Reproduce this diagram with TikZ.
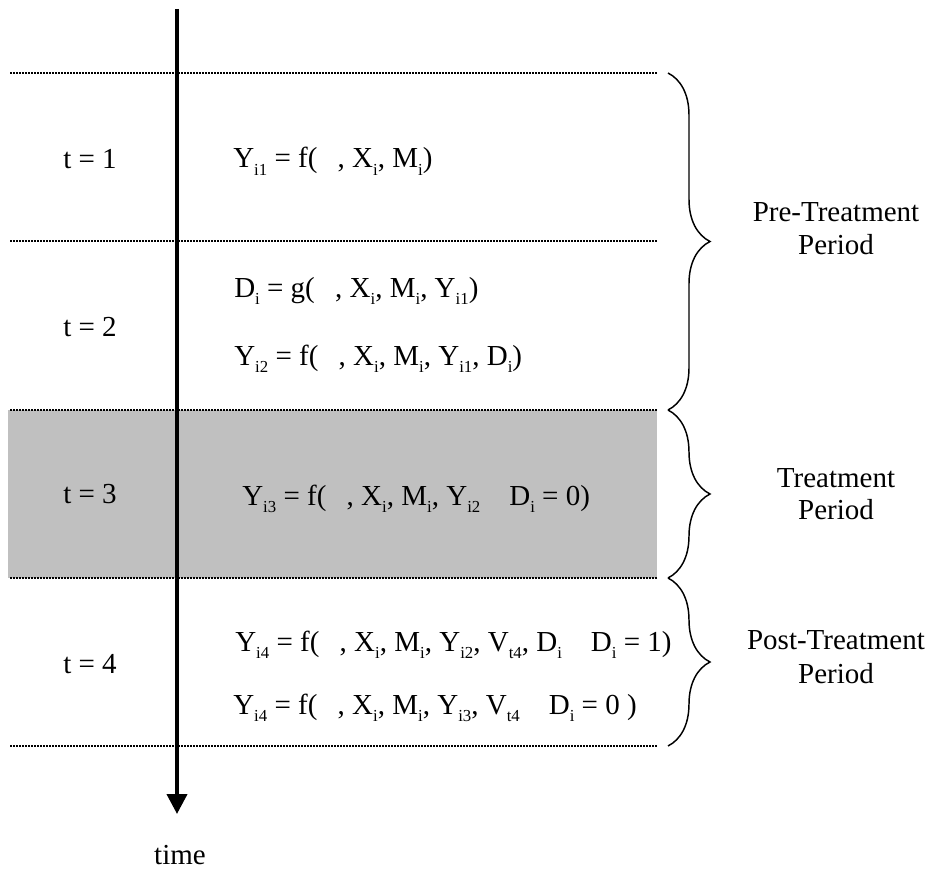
\documentclass[tikz,border=0pt]{standalone}
\usepackage{fontspec}
\setmainfont{Liberation Serif}
\usetikzlibrary{arrows.meta,decorations.pathreplacing}
\definecolor{bandgray}{HTML}{C0C0C0}
\newcommand\sbs[1]{\raisebox{-0.25em}{\fontsize{12.6}{14}\selectfont #1}}
\newcommand\gp{\hspace{0.7em}}
\begin{document}
\begin{tikzpicture}[x=0.75pt,y=-0.75pt,
  txt/.style={font=\fontsize{21.75}{26}\selectfont, inner sep=0pt},
  eq/.style={txt, anchor=base west},
  lbl/.style={txt, anchor=base},
  sep/.style={line width=1.1pt, dash pattern=on 1.5pt off 0.75pt},
  period/.style={line width=1.1pt, decorate, decoration={brace, amplitude=31.5pt}},
  timeline/.style={line width=3pt, -{Triangle[width=15pt,length=15pt]}}]
\useasboundingbox (0,0) rectangle (932,870);
\fill[bandgray] (8,410) rectangle (657,578);
\foreach \yy/\nm in {73/s0,241/s1,410/s2,578/s3,746/s4}{
  \coordinate (\nm a) at (10,\yy);
  \coordinate (\nm b) at (657,\yy);
  \draw[sep] (\nm a) -- (\nm b);
}
\coordinate (ttop) at (177,9);
\coordinate (tbot) at (177,814);
\draw[timeline] (ttop) -- (tbot);
\node[lbl] (time) at (180,864) {time};
% time labels
\node[lbl] (t1) at (90,169) {t = 1};
\node[lbl] (t2) at (90,336) {t = 2};
\node[lbl] (t3) at (90,503) {t = 3};
\node[lbl] (t4) at (90,673) {t = 4};
% equations
\node[eq] (e1) at (233,168) {Y\sbs{i1} = f(\gp, X\sbs{i}, M\sbs{i})};
\node[eq] (e2) at (234,297) {D\sbs{i} = g(\gp, X\sbs{i}, M\sbs{i}, Y\sbs{i1})};
\node[eq] (e3) at (234,365) {Y\sbs{i2} = f(\gp, X\sbs{i}, M\sbs{i}, Y\sbs{i1}, D\sbs{i})};
\node[eq] (e4) at (242,505) {Y\sbs{i3} = f(\gp, X\sbs{i}, M\sbs{i}, Y\sbs{i2}\hspace{1em}D\sbs{i} = 0)};
\node[eq] (e5) at (235,651) {Y\sbs{i4} = f(\gp, X\sbs{i}, M\sbs{i}, Y\sbs{i2}, V\sbs{t4}, D\sbs{i}\hspace{1em}D\sbs{i} = 1)};
\node[eq] (e6) at (233,714) {Y\sbs{i4} = f(\gp, X\sbs{i}, M\sbs{i}, Y\sbs{i3}, V\sbs{t4}\hspace{1em}D\sbs{i} = 0 )};
% braces
\coordinate (b0) at (668,73);
\coordinate (b1) at (668,410);
\coordinate (b2) at (668,578);
\coordinate (b3) at (668,746);
\draw[period] (b0) -- (b1);
\draw[period] (b1) -- (b2);
\draw[period] (b2) -- (b3);
% period labels
\node[lbl] (pre1) at (836,222) {Pre-Treatment};
\node[lbl] (pre2) at (836,254) {Period};
\node[lbl] (tr1) at (836,487) {Treatment};
\node[lbl] (tr2) at (836,519) {Period};
\node[lbl] (po1) at (836,649) {Post-Treatment};
\node[lbl] (po2) at (836,683) {Period};
\end{tikzpicture}
\end{document}
